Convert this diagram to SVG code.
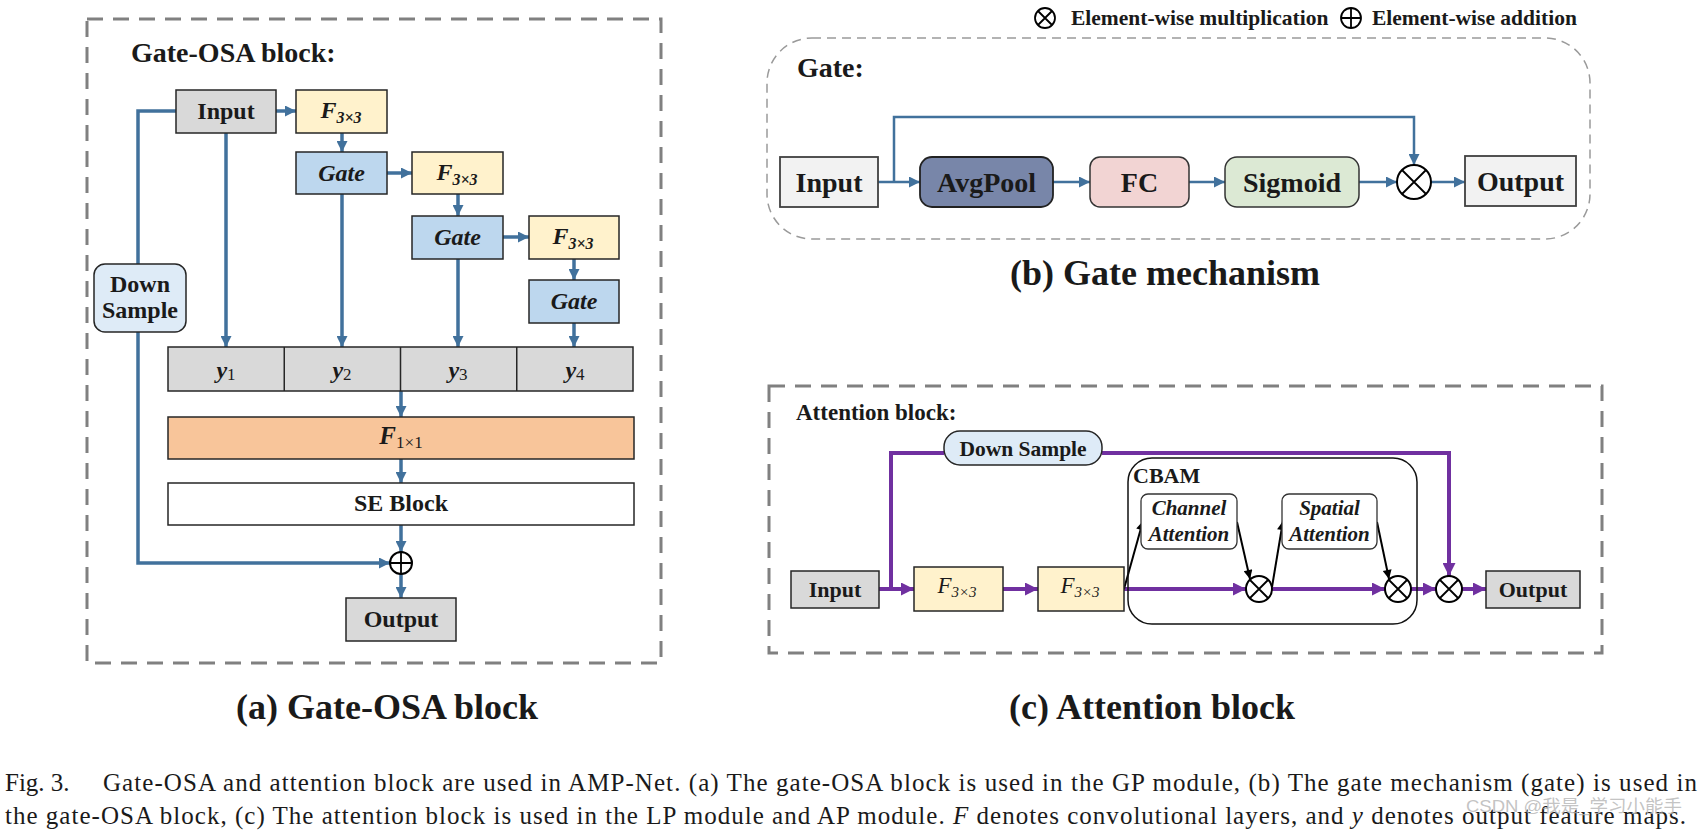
<svg xmlns="http://www.w3.org/2000/svg" width="1702" height="833" viewBox="0 0 1702 833">
<defs>
<style>
text{font-family:"Liberation Serif","Times New Roman",serif;fill:#1a1a1a}
.b{font-weight:bold}
.bi{font-weight:bold;font-style:italic}
.c{text-anchor:middle}
.frame{fill:none;stroke:#808080;stroke-width:3;stroke-dasharray:16 10}
.box{stroke:#262626;stroke-width:1.5}
.gray{fill:#d9d9d9}
.yel{fill:#fff2cc}
.blu{fill:#bdd7ee}
.lb{fill:#deebf7}
.ba{fill:none;stroke:#41719c;stroke-width:3.5}
.bb{fill:none;stroke:#41719c;stroke-width:2.5}
.pa{fill:none;stroke:#7030a0;stroke-width:4}
.ka{fill:none;stroke:#000;stroke-width:2}
.op{fill:#fff;stroke:#000;stroke-width:2}
.ol{stroke:#000;stroke-width:1.8}
</style>
<marker id="mb" viewBox="0 0 10 10" refX="10" refY="5" markerWidth="11" markerHeight="11" markerUnits="userSpaceOnUse" orient="auto"><path d="M0,0 L10,5 L0,10 z" fill="#41719c"/></marker>
<marker id="mb2" viewBox="0 0 10 10" refX="10" refY="5" markerWidth="12" markerHeight="11" markerUnits="userSpaceOnUse" orient="auto"><path d="M0,0 L10,5 L0,10 z" fill="#41719c"/></marker>
<marker id="mp" viewBox="0 0 10 10" refX="10" refY="5" markerWidth="13" markerHeight="13" markerUnits="userSpaceOnUse" orient="auto"><path d="M0,0 L10,5 L0,10 z" fill="#7030a0"/></marker>
<marker id="mk" viewBox="0 0 10 10" refX="10" refY="5" markerWidth="15" markerHeight="9" markerUnits="userSpaceOnUse" orient="auto"><path d="M0,0 L10,5 L0,10 z" fill="#000"/></marker>
</defs>
<rect width="1702" height="833" fill="#fff"/>

<!-- Panel (a) -->
<rect class="frame" x="87" y="19" width="574" height="644"/>
<text class="b" x="131" y="62" font-size="28">Gate-OSA block:</text>

<g id="a-connectors">
<path class="ba" d="M276,111 H296" marker-end="url(#mb)"/>
<path class="ba" d="M342,133 V152" marker-end="url(#mb)"/>
<path class="ba" d="M387,173 H412" marker-end="url(#mb)"/>
<path class="ba" d="M458,194 V216" marker-end="url(#mb)"/>
<path class="ba" d="M503,237 H529" marker-end="url(#mb)"/>
<path class="ba" d="M574,259 V280" marker-end="url(#mb)"/>
<path class="ba" d="M226,133 V347" marker-end="url(#mb)"/>
<path class="ba" d="M342,194 V347" marker-end="url(#mb)"/>
<path class="ba" d="M458,259 V347" marker-end="url(#mb)"/>
<path class="ba" d="M574,323 V347" marker-end="url(#mb)"/>
<path class="ba" d="M401,391 V417" marker-end="url(#mb)"/>
<path class="ba" d="M401,459 V483" marker-end="url(#mb)"/>
<path class="ba" d="M401,525 V552" marker-end="url(#mb)"/>
<path class="ba" d="M401,574 V598" marker-end="url(#mb)"/>
<path class="ba" d="M176,111 H138 V264"/>
<path class="ba" d="M138,332 V563 H390" marker-end="url(#mb)"/>
</g>

<g id="a-input"><rect class="box gray" x="176" y="90" width="100" height="43"/><text class="b c" x="226" y="119" font-size="24">Input</text></g>
<g id="a-f1"><rect class="box yel" x="296" y="90" width="91" height="43"/><text class="c" x="341" y="118" font-size="24"><tspan class="bi">F</tspan><tspan class="bi" font-size="16" dy="5">3×3</tspan></text></g>
<g id="a-gate1"><rect class="box blu" x="296" y="152" width="91" height="42"/><text class="bi c" x="341.5" y="181" font-size="24">Gate</text></g>
<g id="a-f2"><rect class="box yel" x="412" y="152" width="91" height="42"/><text class="c" x="457" y="180" font-size="24"><tspan class="bi">F</tspan><tspan class="bi" font-size="16" dy="5">3×3</tspan></text></g>
<g id="a-gate2"><rect class="box blu" x="412" y="216" width="91" height="43"/><text class="bi c" x="457.5" y="245" font-size="24">Gate</text></g>
<g id="a-f3"><rect class="box yel" x="529" y="216" width="90" height="43"/><text class="c" x="573" y="244" font-size="24"><tspan class="bi">F</tspan><tspan class="bi" font-size="16" dy="5">3×3</tspan></text></g>
<g id="a-gate3"><rect class="box blu" x="529" y="280" width="90" height="43"/><text class="bi c" x="574" y="309" font-size="24">Gate</text></g>
<g id="a-yrow">
<rect class="box gray" x="168" y="347" width="465" height="44"/>
<path d="M284.25,347 V391 M400.5,347 V391 M516.75,347 V391" stroke="#262626" stroke-width="1.5"/>
<text class="c" x="226" y="378" font-size="24"><tspan class="bi">y</tspan><tspan font-size="17" dy="2">1</tspan></text>
<text class="c" x="342" y="378" font-size="24"><tspan class="bi">y</tspan><tspan font-size="17" dy="2">2</tspan></text>
<text class="c" x="458" y="378" font-size="24"><tspan class="bi">y</tspan><tspan font-size="17" dy="2">3</tspan></text>
<text class="c" x="575" y="378" font-size="24"><tspan class="bi">y</tspan><tspan font-size="17" dy="2">4</tspan></text>
</g>
<g id="a-f1x1"><rect class="box" fill="#f8c59a" x="168" y="417" width="466" height="42"/><text class="c" x="401" y="444" font-size="25"><tspan class="bi">F</tspan><tspan font-size="17" dy="4">1×1</tspan></text></g>
<g id="a-se"><rect class="box" fill="#fff" x="168" y="483" width="466" height="42"/><text class="b c" x="401" y="511" font-size="24">SE Block</text></g>
<g id="a-add"><circle class="op" cx="401" cy="563" r="11"/><path class="ol" d="M390,563 H412 M401,552 V574"/></g>
<g id="a-output"><rect class="box gray" x="346" y="598" width="110" height="43"/><text class="b c" x="401" y="627" font-size="24">Output</text></g>
<g id="a-down"><rect class="box lb" x="94" y="264" width="92" height="68" rx="11"/><text class="b c" x="140" y="292" font-size="24">Down</text><text class="b c" x="140" y="318" font-size="24">Sample</text></g>

<text class="b c" x="387" y="719" font-size="36">(a) Gate-OSA block</text>

<!-- Legend -->
<g id="legend">
<circle cx="1045" cy="18" r="10" fill="#fff" stroke="#000" stroke-width="1.8"/>
<path class="ol" d="M1038,11 L1052,25 M1052,11 L1038,25"/>
<text class="b" x="1071" y="25" font-size="21.5">Element-wise multiplication</text>
<circle cx="1351" cy="18" r="10" fill="#fff" stroke="#000" stroke-width="1.8"/>
<path class="ol" d="M1341,18 H1361 M1351,8 V28"/>
<text class="b" x="1372" y="25" font-size="21.5">Element-wise addition</text>
</g>

<!-- Panel (b) -->
<rect x="767" y="38" width="823" height="201" rx="45" fill="none" stroke="#9a9a9a" stroke-width="1.5" stroke-dasharray="9 6"/>
<text class="b" x="797" y="77" font-size="28">Gate:</text>
<g id="b-connectors">
<path class="bb" d="M878,182 H920" marker-end="url(#mb2)"/>
<path class="bb" d="M1053,182 H1090" marker-end="url(#mb2)"/>
<path class="bb" d="M1189,182 H1225" marker-end="url(#mb2)"/>
<path class="bb" d="M1359,182 H1397" marker-end="url(#mb2)"/>
<path class="bb" d="M1431,182 H1465" marker-end="url(#mb2)"/>
<path class="bb" d="M894,182 V117 H1414 V165" marker-end="url(#mb2)"/>
</g>
<g id="b-input"><rect x="780" y="157" width="98" height="50" fill="#f2f2f2" stroke="#404040" stroke-width="1.8"/><text class="b c" x="829" y="192" font-size="28">Input</text></g>
<g id="b-avgpool"><rect x="920" y="157" width="133" height="50" rx="12" fill="#7886a9" stroke="#222" stroke-width="1.8"/><text class="b c" x="986.5" y="192" font-size="28">AvgPool</text></g>
<g id="b-fc"><rect x="1090" y="157" width="99" height="50" rx="10" fill="#f2d4d3" stroke="#333" stroke-width="1.5"/><text class="b c" x="1139.5" y="192" font-size="28">FC</text></g>
<g id="b-sigmoid"><rect x="1225" y="157" width="134" height="50" rx="12" fill="#dce9d4" stroke="#333" stroke-width="1.5"/><text class="b c" x="1292" y="192" font-size="28">Sigmoid</text></g>
<g id="b-mul"><circle class="op" cx="1414" cy="182" r="17"/><path class="ol" d="M1402,170 L1426,194 M1426,170 L1402,194"/></g>
<g id="b-output"><rect x="1465" y="156" width="111" height="50" fill="#f2f2f2" stroke="#404040" stroke-width="1.8"/><text class="b c" x="1520.5" y="191" font-size="28">Output</text></g>
<text class="b c" x="1165" y="285" font-size="36">(b) Gate mechanism</text>

<!-- Panel (c) -->
<rect class="frame" x="769" y="386" width="833" height="267"/>
<text class="b" x="796" y="420" font-size="23">Attention block:</text>
<g id="c-connectors">
<path class="pa" d="M879,589 H914" marker-end="url(#mp)"/>
<path class="pa" d="M1003,589 H1038" marker-end="url(#mp)"/>
<path class="pa" d="M1124,589 H1246" marker-end="url(#mp)"/>
<path class="pa" d="M1272,589 H1385" marker-end="url(#mp)"/>
<path class="pa" d="M1411,589 H1436" marker-end="url(#mp)"/>
<path class="pa" d="M1462,589 H1486" marker-end="url(#mp)"/>
<path class="pa" d="M891,589 V453 H944"/>
<path class="pa" d="M1102,453 H1449 V576" marker-end="url(#mp)"/>
<path class="ka" d="M1124,589 L1143,521" marker-end="url(#mk)"/>
<path class="ka" d="M1237,522 L1250,579" marker-end="url(#mk)"/>
<path class="ka" d="M1272,587 L1283,521" marker-end="url(#mk)"/>
<path class="ka" d="M1377,522 L1389,579" marker-end="url(#mk)"/>
</g>
<g id="c-down"><rect class="box lb" x="944" y="431" width="158" height="34" rx="16"/><text class="b c" x="1023" y="456" font-size="21.5">Down Sample</text></g>
<g id="c-input"><rect class="box gray" x="791" y="571" width="88" height="37"/><text class="b c" x="835" y="597" font-size="22">Input</text></g>
<g id="c-f1"><rect class="box yel" x="914" y="567" width="89" height="44"/><text class="c" x="957" y="593" font-size="23"><tspan font-style="italic">F</tspan><tspan font-style="italic" font-size="15" dy="4">3×3</tspan></text></g>
<g id="c-f2"><rect class="box yel" x="1038" y="567" width="86" height="44"/><text class="c" x="1080" y="593" font-size="23"><tspan font-style="italic">F</tspan><tspan font-style="italic" font-size="15" dy="4">3×3</tspan></text></g>
<g id="c-cbam"><rect x="1128" y="458" width="289" height="166" rx="24" fill="none" stroke="#111" stroke-width="1.5"/><text class="b" x="1133" y="483" font-size="22">CBAM</text></g>
<g id="c-channel"><rect x="1141" y="494" width="96" height="55" rx="7" fill="#fff" stroke="#333" stroke-width="1.3"/><text class="bi c" x="1189" y="515" font-size="21">Channel</text><text class="bi c" x="1189" y="541" font-size="21">Attention</text></g>
<g id="c-spatial"><rect x="1282" y="494" width="95" height="55" rx="7" fill="#fff" stroke="#333" stroke-width="1.3"/><text class="bi c" x="1329.5" y="515" font-size="21">Spatial</text><text class="bi c" x="1329.5" y="541" font-size="21">Attention</text></g>
<g id="c-mul1"><circle class="op" cx="1259" cy="589" r="13"/><path class="ol" d="M1250,580 L1268,598 M1268,580 L1250,598"/></g>
<g id="c-mul2"><circle class="op" cx="1398" cy="589" r="13"/><path class="ol" d="M1389,580 L1407,598 M1407,580 L1389,598"/></g>
<g id="c-mul3"><circle class="op" cx="1449" cy="589" r="13"/><path class="ol" d="M1440,580 L1458,598 M1458,580 L1440,598"/></g>
<g id="c-output"><rect class="box gray" x="1486" y="571" width="94" height="37"/><text class="b c" x="1533" y="597" font-size="22">Output</text></g>
<text class="b c" x="1152" y="719" font-size="36">(c) Attention block</text>

<!-- Caption -->
<text x="5" y="791" font-size="25">Fig. 3.</text>
<text x="103" y="791" font-size="25" textLength="1594" lengthAdjust="spacing">Gate-OSA and attention block are used in AMP-Net. (a) The gate-OSA block is used in the GP module, (b) The gate mechanism (gate) is used in</text>
<text x="5" y="824" font-size="25" textLength="1681" lengthAdjust="spacing">the gate-OSA block, (c) The attention block is used in the LP module and AP module. <tspan font-style="italic">F</tspan> denotes convolutional layers, and <tspan font-style="italic">y</tspan> denotes output feature maps.</text>
<text x="1466" y="812" font-size="17" style="fill:#b4b4b4;font-family:'Liberation Sans','Noto Sans CJK SC',sans-serif" fill-opacity="0.8" textLength="216" lengthAdjust="spacingAndGlyphs">CSDN @我是_学习小能手</text>
</svg>
